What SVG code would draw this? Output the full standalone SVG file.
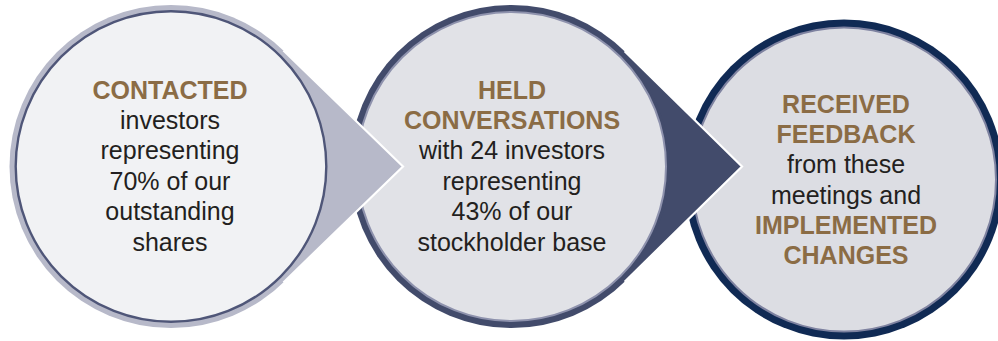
<svg xmlns="http://www.w3.org/2000/svg" width="998" height="341" viewBox="0 0 998 341">
  <style>
    .t { font-family: "Liberation Sans", Arial, Helvetica, sans-serif; font-size: 25px; text-anchor: middle; }
    .hd { font-weight: bold; fill: #8b6c45; }
    .bd { fill: #231f20; }
    .edge { fill: none; stroke: #ffffff; stroke-width: 2.2; stroke-linejoin: miter; }
  </style>
  <rect width="998" height="341" fill="#ffffff"/>

  <!-- step 3 (drawn first so the pointer of step 2 overlaps it) -->
  <g id="step-feedback">
    <circle cx="844" cy="179.5" r="160" fill="#102a54"/>
    <circle cx="844" cy="179.5" r="152" fill="#dcdde3" stroke="#7e82a0" stroke-width="2"/>
    <text class="t hd" x="846" y="113">RECEIVED</text>
    <text class="t hd" x="846" y="143.2">FEEDBACK</text>
    <text class="t bd" x="846" y="173.4">from these</text>
    <text class="t bd" x="846" y="203.6">meetings and</text>
    <text class="t hd" x="846" y="233.8">IMPLEMENTED</text>
    <text class="t hd" x="846" y="264">CHANGES</text>
  </g>

  <!-- step 2 -->
  <g id="step-conversations">
    <circle cx="511.5" cy="166.5" r="161.5" fill="#424b6b"/>
    <circle cx="511.5" cy="166.5" r="154.5" fill="#e1e2e7" stroke="#8e92ad" stroke-width="2"/>
    <text class="t hd" x="512" y="98.5">HELD</text>
    <text class="t hd" x="512" y="128.9">CONVERSATIONS</text>
    <text class="t bd" x="512" y="159.3">with 24 investors</text>
    <text class="t bd" x="512" y="189.7">representing</text>
    <text class="t bd" x="512" y="220.1">43% of our</text>
    <text class="t bd" x="512" y="250.5">stockholder base</text>
  </g>

  <!-- step 1 -->
  <g id="step-contacted">
    <circle cx="171" cy="166.5" r="161.5" fill="#b7b9c9"/>
    <circle cx="171" cy="166.5" r="155.3" fill="#f1f2f4" stroke="#4f5678" stroke-width="2.4"/>
    <text class="t hd" x="170" y="98.5">CONTACTED</text>
    <text class="t bd" x="170" y="128.9">investors</text>
    <text class="t bd" x="170" y="159.3">representing</text>
    <text class="t bd" x="170" y="189.7">70% of our</text>
    <text class="t bd" x="170" y="220.1">outstanding</text>
    <text class="t bd" x="170" y="250.5">shares</text>
  </g>

  <!-- pointers leading from one step to the next -->
  <g id="connectors">
    <g id="pointer-1-2">
      <path d="M403,166.5 L283.42,50.56 L281.34,52.71 A158.5,158.5 0 0 1 281.34,280.29 L283.42,282.44 Z" fill="#b7b9c9"/>
      <path class="edge" d="M283.42,50.56 L403,166.5 L283.42,282.44"/>
    </g>
    <g id="pointer-2-3">
      <path d="M742,166.5 L624.65,51.27 L622.55,53.41 A158.5,158.5 0 0 1 622.55,279.59 L624.65,281.73 Z" fill="#424b6b"/>
      <path class="edge" d="M624.65,51.27 L742,166.5 L624.65,281.73"/>
    </g>
  </g>
</svg>
